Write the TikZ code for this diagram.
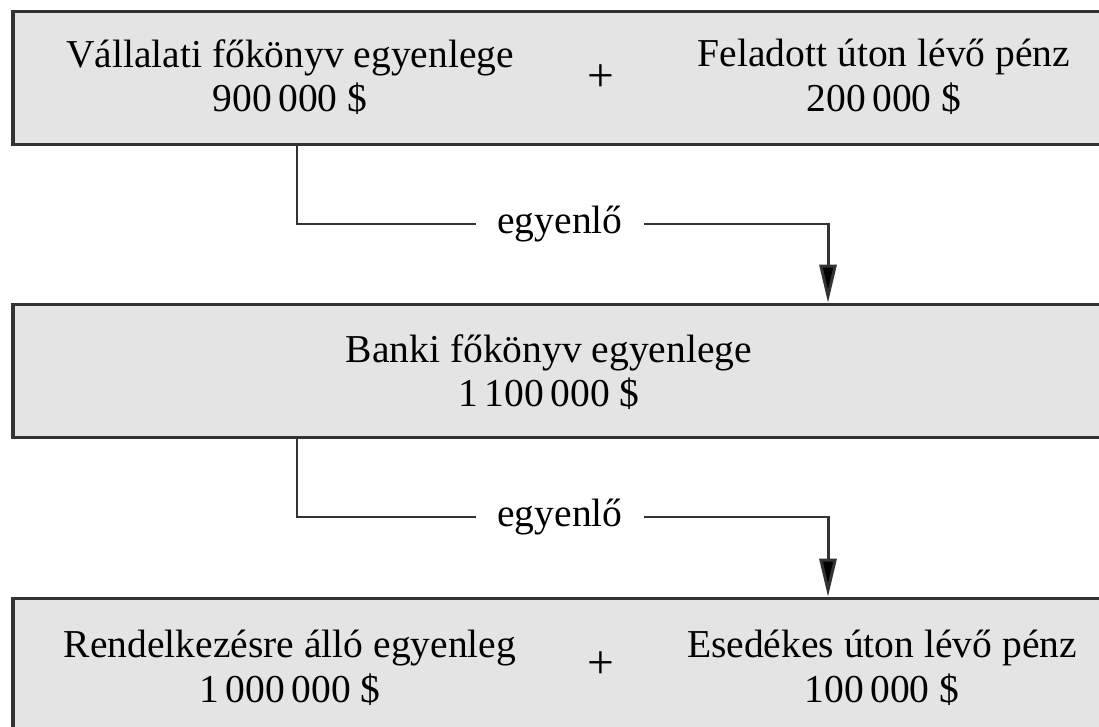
\documentclass[tikz,border=0pt]{standalone}
\usepackage{fontspec}
\setmainfont{Liberation Serif}
\usepackage{xcolor}
\usetikzlibrary{arrows.meta}

\definecolor{boxline}{HTML}{333333}
\definecolor{boxfill}{HTML}{E4E4E4}

\begin{document}
\begin{tikzpicture}[x=1cm,y=1cm,
  box/.style={draw=boxline,line width=2pt,fill=boxfill,inner sep=0pt,
              minimum width=21.94cm,minimum height=2.66cm},
  txt/.style={align=center,font=\fontsize{22.5}{25.5}\selectfont},
  sign/.style={font=\fontsize{27}{30}\selectfont},
  word/.style={font=\fontsize{22.5}{25.5}\selectfont,inner xsep=12pt,inner ysep=0pt},
  link/.style={line width=1.7pt,draw=boxline},
  arr/.style={link,-{Triangle[length=7.6mm,width=3.4mm,fill=black]}}
]
\useasboundingbox (0,0) rectangle (21.98,14.52);
\clip (0,0) rectangle (21.98,14.52);

% the three balances
\node[box] (company) at (11.23,12.96) {};
\node[box] (bank) at (11.23,7.10) {};
\node[box] (avail) at (11.23,1.22) {};

\node[txt] (ledger) at (5.80,12.98) {Vállalati főkönyv egyenlege\\900\,000 \$};
\node[sign] (plusA) at (12.02,12.96) {+};
\node[txt] (sent) at (17.68,12.98) {Feladott úton lévő pénz\\200\,000 \$};

\node[txt] (banktxt) at (10.98,7.08) {Banki főkönyv egyenlege\\1\,100\,000 \$};

\node[txt] (free) at (5.80,1.16) {Rendelkezésre álló egyenleg\\1\,000\,000 \$};
\node[sign] (plusB) at (12.02,1.22) {+};
\node[txt] (due) at (17.64,1.16) {Esedékes úton lévő pénz\\100\,000 \$};

% connectors
\coordinate (leftx) at (5.94,0);
\coordinate (rightx) at (16.56,0);
\node[word] (eqA) at (11.20,10.04) {egyenlő};
\node[word] (eqB) at (11.20,4.18) {egyenlő};

\draw[link] (company.south -| leftx) |- (eqA.west);
\draw[arr] (eqA.east) -| (bank.north -| rightx);
\draw[link] (bank.south -| leftx) |- (eqB.west);
\draw[arr] (eqB.east) -| (avail.north -| rightx);
\end{tikzpicture}
\end{document}
